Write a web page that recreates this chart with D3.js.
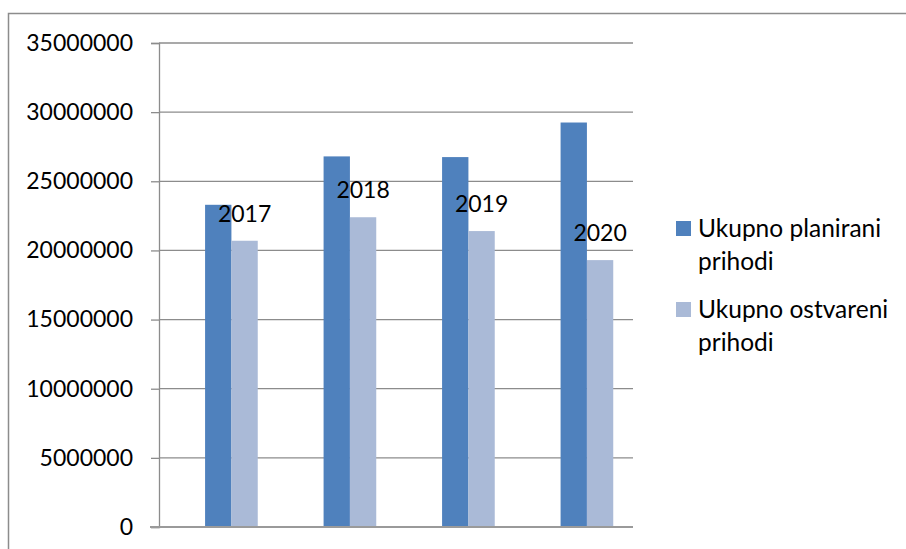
<!DOCTYPE html>
<html>
<head>
<meta charset="utf-8">
<script src="https://cdn.jsdelivr.net/npm/d3@7"></script>
<style>
  body { margin: 0; background: #fff; }
  svg { display: block; }
</style>
</head>
<body>
<svg width="906" height="549"></svg>
<script>
// Data
const years = [2017, 2018, 2019, 2020];
const planned = [23300000, 26800000, 26750000, 29250000];
const realized = [20700000, 22400000, 21400000, 19300000];
const seriesNames = ["Ukupno planirani prihodi", "Ukupno ostvareni prihodi"];
const yTicks = [0, 5000000, 10000000, 15000000, 20000000, 25000000, 30000000, 35000000];

const font = "Lato, 'Open Sans', sans-serif";
const svg = d3.select("svg");

// outer chart border
svg.append("rect")
	.attr("x", 8.5).attr("y", 13.5)
	.attr("width", 1000).attr("height", 600)
	.attr("fill", "none")
	.attr("stroke", "#8c8c8c")
	.attr("stroke-width", 1.5);

const margin = { top: 43, left: 159, right: 633, bottom: 527 };

// Scales
const x = d3.scaleBand().domain(years).range([margin.left, margin.right]).paddingInner(0).paddingOuter(0);
const bar = x.bandwidth() / 4.5; // 3 bars + 150% gap
const y = d3.scaleLinear().domain([0, 35000000]).range([margin.bottom, margin.top]);

// Gridlines
svg.append("g")
	.selectAll("line")
	.data(yTicks.filter((d) => d > 0))
	.join("line")
	.attr("x1", margin.left)
	.attr("x2", margin.right)
	.attr("y1", (d) => y(d))
	.attr("y2", (d) => y(d))
	.attr("stroke", "#8c8c8c")
	.attr("stroke-width", 1.3);

// Y axis
const yAxis = svg.append("g")
	.attr("transform", `translate(${margin.left},0)`)
	.call(d3.axisLeft(y).tickValues(yTicks).tickSize(8).tickPadding(18).tickFormat(d3.format("d")));
yAxis.select(".domain").attr("stroke", "#8c8c8c").attr("stroke-width", 1.3);
yAxis.selectAll(".tick line").attr("stroke", "#8c8c8c").attr("stroke-width", 1.3);
yAxis.selectAll(".tick text")
	.attr("fill", "#000")
	.style("font-family", font)
	.style("font-size", "23px");

// Bars
const groups = svg.append("g")
	.selectAll("g")
	.data(years)
	.join("g")
	.attr("transform", (d) => `translate(${x(d) + bar * 0.75},0)`);

// year series (tiny values)
groups.append("rect")
	.attr("x", 0)
	.attr("width", bar)
	.attr("y", (d) => Math.min(y(d), margin.bottom - 1))
	.attr("height", (d) => Math.max(1, margin.bottom - y(d)))
	.attr("fill", "#2c4d75");

groups.append("rect")
	.attr("x", bar)
	.attr("width", bar)
	.attr("y", (d, i) => y(planned[i]))
	.attr("height", (d, i) => margin.bottom - y(planned[i]))
	.attr("fill", "#4f81bd");

groups.append("rect")
	.attr("x", bar * 2)
	.attr("width", bar)
	.attr("y", (d, i) => y(realized[i]))
	.attr("height", (d, i) => margin.bottom - y(realized[i]))
	.attr("fill", "#aabad7");

// year labels
groups.append("text")
	.attr("x", bar * 2.5)
	.attr("y", (d, i) => y(realized[i]) - 19)
	.attr("text-anchor", "middle")
	.style("font-family", font)
	.style("font-size", "23px")
	.attr("fill", "#000")
	.text((d) => d);

// X axis line
svg.append("line")
	.attr("x1", 150)
	.attr("x2", margin.right)
	.attr("y1", margin.bottom)
	.attr("y2", margin.bottom)
	.attr("stroke", "#9a9a9a")
	.attr("stroke-width", 2);

// Legend
const legendColors = ["#4f81bd", "#aabad7"];
const legend = svg.append("g")
	.selectAll("g")
	.data(seriesNames)
	.join("g")
	.attr("transform", (d, i) => `translate(676,${221 + i * 81})`);

legend.append("rect")
	.attr("width", 15)
	.attr("height", 15)
	.attr("fill", (d, i) => legendColors[i]);

legend.append("text")
	.attr("x", 22)
	.attr("y", 16)
	.style("font-family", font)
	.style("font-size", "24.5px")
	.attr("fill", "#000")
	.selectAll("tspan")
	.data((d) => [d.split(" ").slice(0, 2).join(" "), d.split(" ").slice(2).join(" ")])
	.join("tspan")
	.attr("x", 22)
	.attr("dy", (d, i) => (i === 0 ? 0 : 33))
	.text((d) => d);
</script>
</body>
</html>
